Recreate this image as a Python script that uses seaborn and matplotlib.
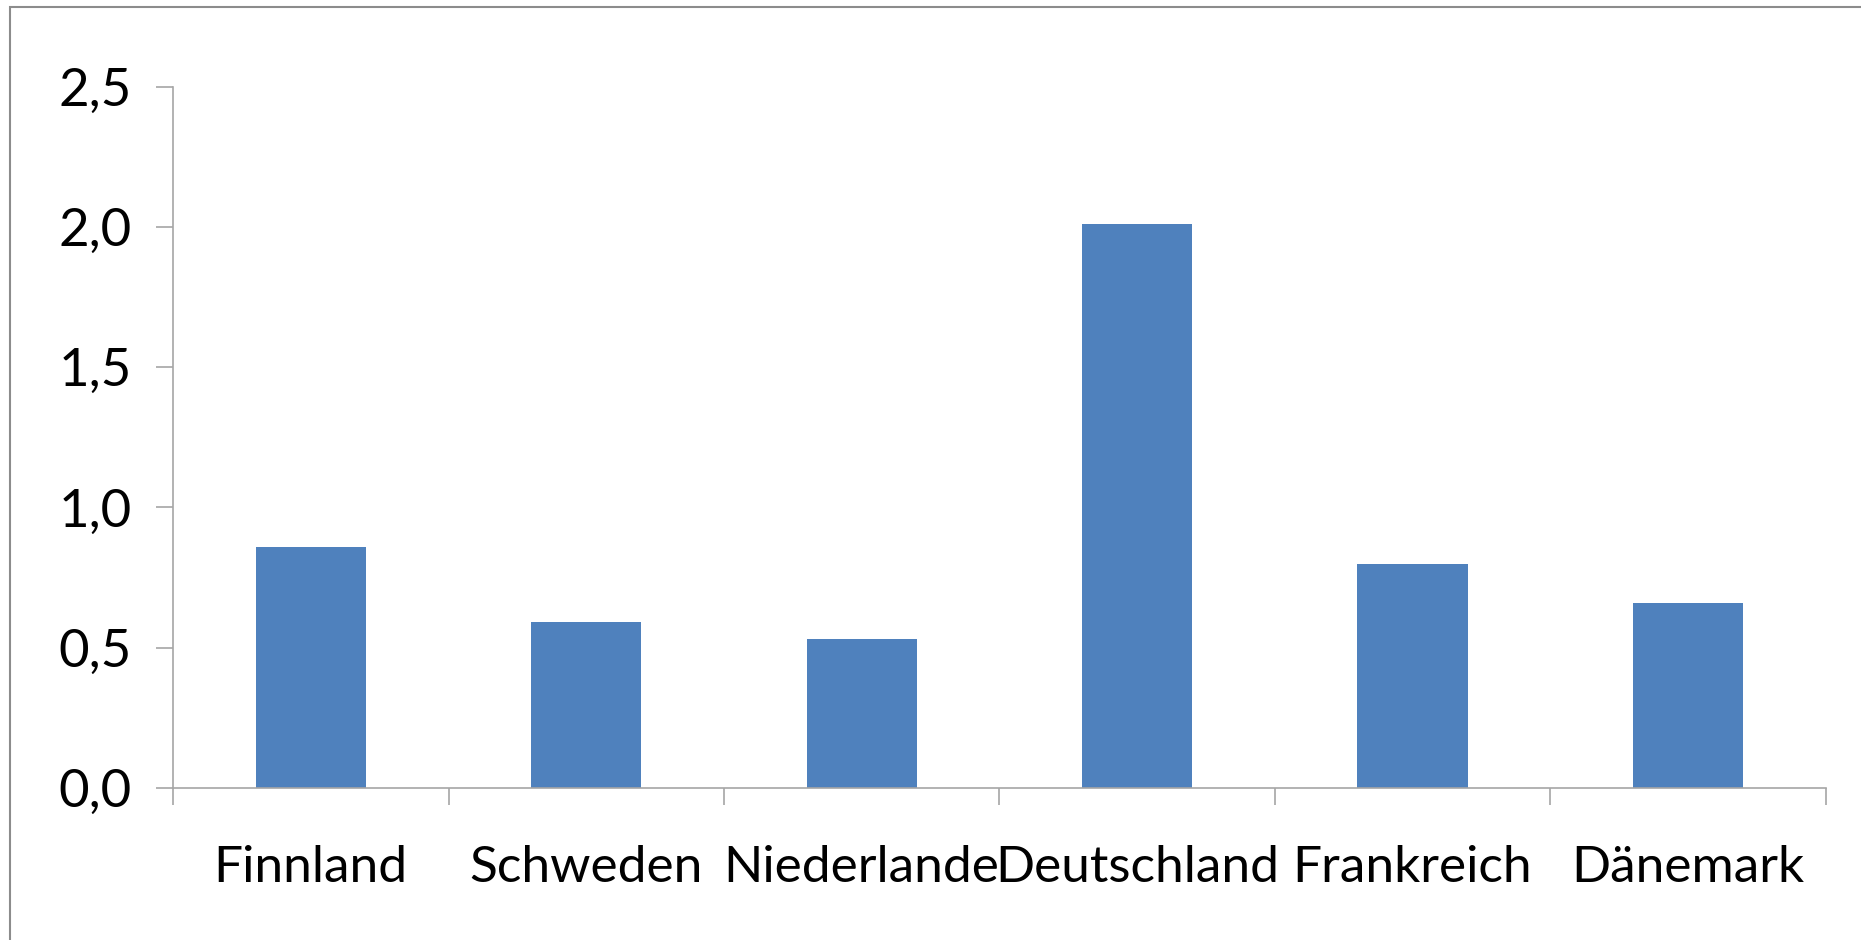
import matplotlib
matplotlib.use("Agg")
import matplotlib.pyplot as plt
import matplotlib.patches as mpatches
from matplotlib.ticker import FuncFormatter, FixedLocator
import seaborn as sns
import pandas as pd

countries = ["Finnland", "Schweden", "Niederlande", "Deutschland", "Frankreich", "Dänemark"]
values = [0.86, 0.59, 0.53, 2.01, 0.80, 0.66]
y_ticks = [0.0, 0.5, 1.0, 1.5, 2.0, 2.5]

sns.set_theme(style="white")
plt.rcParams["font.family"] = ["Lato", "DejaVu Sans"]

df = pd.DataFrame({"Land": countries, "Wert": values})

fig = plt.figure(figsize=(18.61, 9.40), dpi=100)
ax = fig.add_axes([0.093, 0.1617, 0.888, 0.7462])

sns.barplot(data=df, x="Land", y="Wert", color="#4F81BD", width=0.4,
            saturation=1, ax=ax, edgecolor="none")

ax.set_xlim(-0.5, len(countries) - 0.5)
ax.set_ylim(0, 2.5)
ax.set_yticks(y_ticks)
ax.yaxis.set_major_formatter(FuncFormatter(lambda v, p: f"{v:.1f}".replace(".", ",")))
ax.set_xlabel("")
ax.set_ylabel("")

axis_col = "#A6A6A6"
for side in ["top", "right"]:
    ax.spines[side].set_visible(False)
for side in ["left", "bottom"]:
    ax.spines[side].set_visible(True)
    ax.spines[side].set_color(axis_col)
    ax.spines[side].set_linewidth(1.2)

# category boundary ticks on the x axis
ax.xaxis.set_minor_locator(FixedLocator([i - 0.5 for i in range(len(countries) + 1)]))
ax.tick_params(axis="x", which="minor", length=12, width=1.2, color=axis_col, direction="out", bottom=True)
ax.tick_params(axis="x", which="major", length=0, pad=41, labelsize=37, labelcolor="black")
ax.tick_params(axis="y", which="major", length=12, width=1.2, color=axis_col, direction="out",
               left=True, pad=18, labelsize=38, labelcolor="black")

# outer chart frame
frame = mpatches.Rectangle((10 / 1861, -0.01), 1.02, 1 - 7 / 940 + 0.01, transform=fig.transFigure,
                           fill=False, edgecolor="#8C8C8C", linewidth=1.5)
fig.patches.append(frame)

fig.savefig("out.png", dpi=100, facecolor="white")
